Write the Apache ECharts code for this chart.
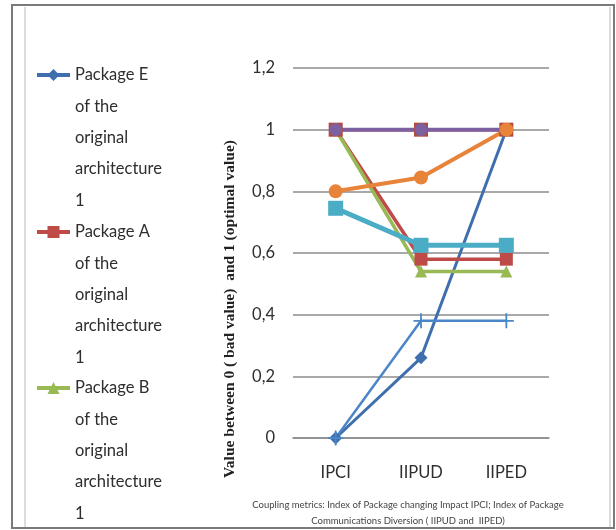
<!DOCTYPE html>
<html>
<head>
<meta charset="utf-8">
<script src="https://cdn.jsdelivr.net/npm/echarts/dist/echarts.min.js"></script>
<style>
html,body{margin:0;padding:0;background:#fff;}
#chart{width:616px;height:530px;}
</style>
</head>
<body>
<div id="chart"></div>
<script>
const categories = ['IPCI', 'IIPUD', 'IIPED'];
const yMin = 0, yMax = 1.2, yStep = 0.2;

const packageE = [0, 0.26, 1];
const packageA = [1, 0.58, 0.58];
const packageB = [1, 0.54, 0.54];
const packageC = [1, 1, 1];
const packageD = [1, 1, 1];
const packageF = [0.745, 0.625, 0.625];
const packageG = [0.80, 0.845, 1];
const packageH = [0, 0.38, 0.38];

const legendNames = [
  'Package E\nof the\noriginal\narchitecture\n1',
  'Package A\nof the\noriginal\narchitecture\n1',
  'Package B\nof the\noriginal\narchitecture\n1'
];

const yAxisTitle = 'Value between 0 ( bad value)  and 1 (optimal value)';
const xAxisTitle = 'Coupling metrics: Index of Package changing Impact IPCI; Index of Package\nCommunications Diversion ( IIPUD and  IIPED)';

const mainFont = "Lato, 'Open Sans', sans-serif";
const plusPath = 'path://M4.4,0 H5.6 V4.4 H10 V5.6 H5.6 V10 H4.4 V5.6 H0 V4.4 H4.4 Z';

function lineSeries(name, data, color, symbol, size, width) {
  return {
    name: name, type: 'line', data: data,
    symbol: symbol, symbolSize: size, showSymbol: true,
    lineStyle: {color: color, width: width},
    itemStyle: {color: color},
    emphasis: {disabled: true},
    animation: false, z: 2
  };
}

const lineH = 31.3;
// text block is centred on the icon: four blank lines above put the first line level with the icon
function legendAt(name, iconY) {
  return {
    data: [name], left: 35, top: iconY - 4.5 * lineH, orient: 'vertical', padding: 0,
    itemWidth: 33, itemHeight: 15, itemGap: 0, selectedMode: false,
    lineStyle: {width: 4},
    formatter: function (n) { return '\n\n\n\n' + n; },
    textStyle: {fontFamily: mainFont, fontSize: 16.5, color: '#2e2e2e', lineHeight: lineH}
  };
}

const chart = echarts.init(document.getElementById('chart'), null, {renderer: 'canvas'});
chart.setOption({
  backgroundColor: '#fff',
  animation: false,
  graphic: [
    {type: 'rect', shape: {x: 12, y: 5, width: 602, height: 523}, style: {fill: 'none', stroke: '#7a7a7a', lineWidth: 2}, silent: true},
    {type: 'line', shape: {x1: 25, y1: 7, x2: 25, y2: 527}, style: {stroke: '#b8b8b8', lineWidth: 1}, silent: true},
    {type: 'line', shape: {x1: 610, y1: 7, x2: 610, y2: 527}, style: {stroke: '#b8b8b8', lineWidth: 1}, silent: true}
  ],
  legend: [
    legendAt(legendNames[0], 75),
    legendAt(legendNames[1], 232),
    legendAt(legendNames[2], 388)
  ],
  grid: {left: 293, right: 67, top: 68, bottom: 92, containLabel: false, outerBoundsMode: 'none'},
  xAxis: {
    type: 'category', data: categories, boundaryGap: true,
    axisLine: {show: true, lineStyle: {color: '#8c8c8c', width: 1.5}},
    axisTick: {show: false},
    axisLabel: {fontFamily: mainFont, fontSize: 16.5, color: '#2e2e2e', margin: 26},
    name: xAxisTitle, nameLocation: 'middle', nameGap: 59,
    nameTextStyle: {fontFamily: mainFont, fontSize: 9.5, color: '#444', lineHeight: 16, padding: [0, 26, 0, 0]}
  },
  yAxis: {
    type: 'value', min: yMin, max: yMax, interval: yStep,
    axisLine: {show: false}, axisTick: {show: false},
    splitLine: {lineStyle: {color: '#8c8c8c', width: 1.5}},
    axisLabel: {fontFamily: mainFont, fontSize: 16.5, color: '#2e2e2e', margin: 18,
      formatter: function (v) { return String(Math.round(v * 10) / 10).replace('.', ','); }},
    name: yAxisTitle, nameLocation: 'middle', nameGap: 55, nameRotate: 90,
    nameTextStyle: {fontFamily: "'Liberation Serif', 'Times New Roman', serif", fontWeight: 'bold', fontSize: 15.5, color: '#222', padding: [0, 112, 0, 0]}
  },
  series: [
    lineSeries(legendNames[0], packageE, '#3F6FAD', 'diamond', 13, 3),
    lineSeries(legendNames[1], packageA, '#BE4B48', 'rect', 13, 3.5),
    lineSeries(legendNames[2], packageB, '#98B954', 'triangle', 12, 3.5),
    lineSeries('Package C', packageC, '#B14B3C', 'rect', 14, 3.5),
    lineSeries('Package D', packageD, '#7D60A0', 'circle', 13, 4),
    lineSeries('Package F', packageF, '#4BACC6', 'rect', 15, 5),
    lineSeries('Package G', packageG, '#E8833A', 'circle', 14, 4),
    lineSeries('Package H', packageH, '#4A86C8', plusPath, 15, 2.5)
  ]
});
</script>
</body>
</html>
